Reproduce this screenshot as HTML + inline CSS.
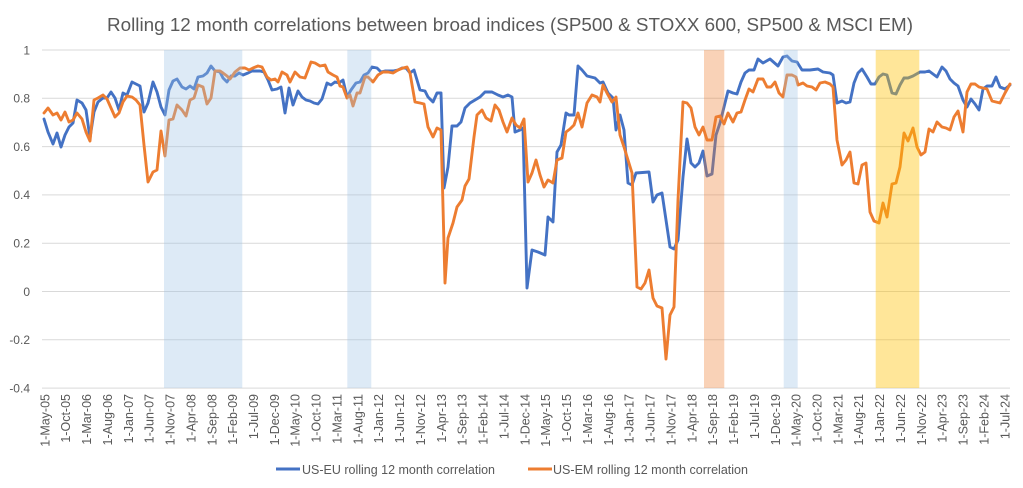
<!DOCTYPE html>
<html>
<head>
<meta charset="utf-8">
<style>
html,body{margin:0;padding:0;background:#fff;}
svg{display:block;}
text{font-family:"Liberation Sans",Arial,sans-serif;fill:#595959;}
</style>
</head>
<body>
<svg width="1023" height="488" viewBox="0 0 1023 488" xmlns="http://www.w3.org/2000/svg">
<rect x="0" y="0" width="1023" height="488" fill="#fff"/>
<text x="107" y="31" font-size="18.5" textLength="806" lengthAdjust="spacingAndGlyphs">Rolling 12 month correlations between broad indices (SP500 &amp; STOXX 600, SP500 &amp; MSCI EM)</text>

<g stroke="#d9d9d9" stroke-width="1">
<line x1="42" y1="50" x2="1010" y2="50"/>
<line x1="42" y1="98.3" x2="1010" y2="98.3"/>
<line x1="42" y1="146.6" x2="1010" y2="146.6"/>
<line x1="42" y1="194.9" x2="1010" y2="194.9"/>
<line x1="42" y1="243.2" x2="1010" y2="243.2"/>
<line x1="42" y1="291.5" x2="1010" y2="291.5"/>
<line x1="42" y1="339.8" x2="1010" y2="339.8"/>
<line x1="42" y1="388.1" x2="1010" y2="388.1"/>
</g>

<g font-size="12" text-anchor="end">
<text x="30" y="54.3">1</text>
<text x="30" y="102.6">0.8</text>
<text x="30" y="150.9">0.6</text>
<text x="30" y="199.2">0.4</text>
<text x="30" y="247.5">0.2</text>
<text x="30" y="295.8">0</text>
<text x="30" y="344.1">-0.2</text>
<text x="30" y="392.4">-0.4</text>
</g>

<g fill="none" stroke-width="2.9" stroke-linejoin="round" stroke-linecap="round">
<polyline stroke="#4472C4" points="44,119 48,132 53,144 57,133 61,147 65,135 69,127 73,123 77,100 82,103 86,110 90,138 94,112 98,102 103,98 107,98 111,92 115,98 119,110 123,93 127,95 132,82 136,84 140,86 144,112 148,103 153,82 157,92 161,107 165,115 169,90 173,81 177,79 182,87 186,89 190,86 194,89 198,77 203,76 207,73 211,66 215,71 220,72 223,78 227,82 231,76 235,76 239,73 243,75 248,73 252,71 256,71 260,71 264,72 268,80 272,90 277,89 281,87 285,113 289,88 293,105 298,91 302,97 306,100 310,101 314,103 318,104 322,99 327,83 331,85 335,82 339,83 343,80 347,97 351,90 356,83 360,82 364,75 368,73 372,67 377,68 381,72 385,71 389,71 393,71 398,70 402,68 406,68 410,73 414,70 420,90 425,91 428,97 433,102 437,93 441,93 444,188 448,167 452,126 457,126 461,122 465,108 470,103 475,100 480,97 485,92 492,92 498,95 503,97 508,95 512,97 515,132 520,130 523,128 527,288 532,250 538,252 545,255 548,217 553,222 557,152 561,145 566,113 569,115 574,115 578,66 582,70 587,76 595,78 600,83 603,82 608,93 613,98 616,130 620,115 624,130 628,183 632,185 636,173 649,172 653,202 657,195 662,193 670,247 674,249 678,240 683,177 687,139 691,163 695,167 699,163 703,151 707,176 712,174 716,135 720,123 724,107 728,91 733,93 737,94 741,82 745,73 749,70 754,70 758,59 763,63 770,59 778,66 783,57 787,56 792,61 797,62 802,70 810,70 818,69 823,72 830,73 833,75 837,103 842,101 846,103 850,102 854,83 858,73 862,69 867,77 871,84 875,84 879,77 883,74 887,75 892,93 896,94 900,85 904,78 908,78 913,76 920,72 925,72 929,71 937,77 942,67 946,71 950,79 954,83 958,86 963,100 967,107 971,99 975,104 979,110 983,89 987,86 992,86 996,77 1000,87 1005,89 1010,85"/>
<polyline stroke="#ED7D31" points="44,113 48,108 53,115 57,113 61,120 65,112 69,122 73,120 77,113 82,119 86,132 90,141 94,100 98,98 103,95 107,99 111,108 115,117 119,113 123,102 127,96 132,97 136,100 140,105 144,145 148,182 153,172 157,170 161,131 165,156 169,120 173,119 177,105 182,110 186,116 190,100 194,98 198,85 203,87 207,104 211,98 215,71 220,71 223,73 227,76 230,79 235,72 240,68 245,68 249,70 253,68 258,66 262,67 267,77 271,80 275,79 278,82 282,72 287,75 290,82 295,72 300,77 305,78 311,62 315,63 320,66 325,65 328,72 333,75 337,77 340,86 343,87 347,98 350,95 353,106 357,93 360,93 365,77 368,77 373,82 378,75 383,72 388,72 393,73 398,70 403,68 407,67 410,73 415,102 420,103 424,104 428,127 433,137 437,128 441,130 445,283 448,238 453,223 457,207 462,200 465,186 469,179 474,137 477,115 482,110 486,118 491,121 495,105 499,110 503,122 507,132 512,118 516,125 520,128 524,119 528,182 532,173 536,160 540,175 544,187 548,180 553,183 557,160 562,158 566,132 570,129 574,125 578,113 582,127 587,103 592,95 597,97 600,102 603,85 607,93 612,102 616,97 620,135 624,147 628,160 632,173 637,287 641,289 645,283 649,270 653,298 657,306 662,308 666,359 670,315 674,307 678,200 683,102 687,103 691,108 695,127 699,135 703,127 707,140 712,140 716,117 720,116 724,124 728,113 733,122 737,113 741,112 745,100 749,89 753,92 758,79 763,79 767,87 771,87 775,82 779,93 783,97 787,75 792,75 796,77 798,85 803,83 807,86 812,87 816,90 820,83 825,82 830,84 833,87 837,140 842,165 846,160 850,152 854,183 858,184 862,165 866,163 870,212 874,221 879,223 883,203 887,217 892,184 896,183 900,167 904,133 908,141 913,128 917,147 921,155 925,152 929,129 933,132 937,122 942,127 946,128 950,130 954,117 958,111 963,132 967,92 971,84 975,84 979,87 983,88 987,89 992,101 996,102 1000,103 1005,93 1010,84"/>
</g>

<rect x="164" y="50" width="78.3" height="338" fill="#9DC3E6" fill-opacity="0.35"/>
<rect x="347.3" y="50" width="24" height="338" fill="#9DC3E6" fill-opacity="0.35"/>
<rect x="704" y="50" width="20.3" height="338" fill="#ED7D31" fill-opacity="0.35"/>
<rect x="783.7" y="50" width="14" height="338" fill="#9DC3E6" fill-opacity="0.35"/>
<rect x="875.7" y="50" width="43.6" height="338" fill="#FFC000" fill-opacity="0.4"/>

<g font-size="12.5" text-anchor="end">
<text transform="translate(49.3,394) rotate(-90)">1-May-05</text>
<text transform="translate(70.2,394) rotate(-90)">1-Oct-05</text>
<text transform="translate(91.0,394) rotate(-90)">1-Mar-06</text>
<text transform="translate(111.9,394) rotate(-90)">1-Aug-06</text>
<text transform="translate(132.8,394) rotate(-90)">1-Jan-07</text>
<text transform="translate(153.7,394) rotate(-90)">1-Jun-07</text>
<text transform="translate(174.5,394) rotate(-90)">1-Nov-07</text>
<text transform="translate(195.4,394) rotate(-90)">1-Apr-08</text>
<text transform="translate(216.3,394) rotate(-90)">1-Sep-08</text>
<text transform="translate(237.1,394) rotate(-90)">1-Feb-09</text>
<text transform="translate(258.0,394) rotate(-90)">1-Jul-09</text>
<text transform="translate(278.9,394) rotate(-90)">1-Dec-09</text>
<text transform="translate(299.7,394) rotate(-90)">1-May-10</text>
<text transform="translate(320.6,394) rotate(-90)">1-Oct-10</text>
<text transform="translate(341.5,394) rotate(-90)">1-Mar-11</text>
<text transform="translate(362.4,394) rotate(-90)">1-Aug-11</text>
<text transform="translate(383.2,394) rotate(-90)">1-Jan-12</text>
<text transform="translate(404.1,394) rotate(-90)">1-Jun-12</text>
<text transform="translate(425.0,394) rotate(-90)">1-Nov-12</text>
<text transform="translate(445.8,394) rotate(-90)">1-Apr-13</text>
<text transform="translate(466.7,394) rotate(-90)">1-Sep-13</text>
<text transform="translate(487.6,394) rotate(-90)">1-Feb-14</text>
<text transform="translate(508.4,394) rotate(-90)">1-Jul-14</text>
<text transform="translate(529.3,394) rotate(-90)">1-Dec-14</text>
<text transform="translate(550.2,394) rotate(-90)">1-May-15</text>
<text transform="translate(571.1,394) rotate(-90)">1-Oct-15</text>
<text transform="translate(591.9,394) rotate(-90)">1-Mar-16</text>
<text transform="translate(612.8,394) rotate(-90)">1-Aug-16</text>
<text transform="translate(633.7,394) rotate(-90)">1-Jan-17</text>
<text transform="translate(654.5,394) rotate(-90)">1-Jun-17</text>
<text transform="translate(675.4,394) rotate(-90)">1-Nov-17</text>
<text transform="translate(696.3,394) rotate(-90)">1-Apr-18</text>
<text transform="translate(717.1,394) rotate(-90)">1-Sep-18</text>
<text transform="translate(738.0,394) rotate(-90)">1-Feb-19</text>
<text transform="translate(758.9,394) rotate(-90)">1-Jul-19</text>
<text transform="translate(779.8,394) rotate(-90)">1-Dec-19</text>
<text transform="translate(800.6,394) rotate(-90)">1-May-20</text>
<text transform="translate(821.5,394) rotate(-90)">1-Oct-20</text>
<text transform="translate(842.4,394) rotate(-90)">1-Mar-21</text>
<text transform="translate(863.2,394) rotate(-90)">1-Aug-21</text>
<text transform="translate(884.1,394) rotate(-90)">1-Jan-22</text>
<text transform="translate(905.0,394) rotate(-90)">1-Jun-22</text>
<text transform="translate(925.8,394) rotate(-90)">1-Nov-22</text>
<text transform="translate(946.7,394) rotate(-90)">1-Apr-23</text>
<text transform="translate(967.6,394) rotate(-90)">1-Sep-23</text>
<text transform="translate(988.5,394) rotate(-90)">1-Feb-24</text>
<text transform="translate(1009.3,394) rotate(-90)">1-Jul-24</text>
</g>

<line x1="276" y1="469" x2="300" y2="469" stroke="#4472C4" stroke-width="2.9"/>
<text x="302" y="474" font-size="12.5" textLength="193" lengthAdjust="spacingAndGlyphs">US-EU rolling 12 month correlation</text>
<line x1="528" y1="469" x2="552" y2="469" stroke="#ED7D31" stroke-width="2.9"/>
<text x="553" y="474" font-size="12.5" textLength="195" lengthAdjust="spacingAndGlyphs">US-EM rolling 12 month correlation</text>
</svg>
</body>
</html>
